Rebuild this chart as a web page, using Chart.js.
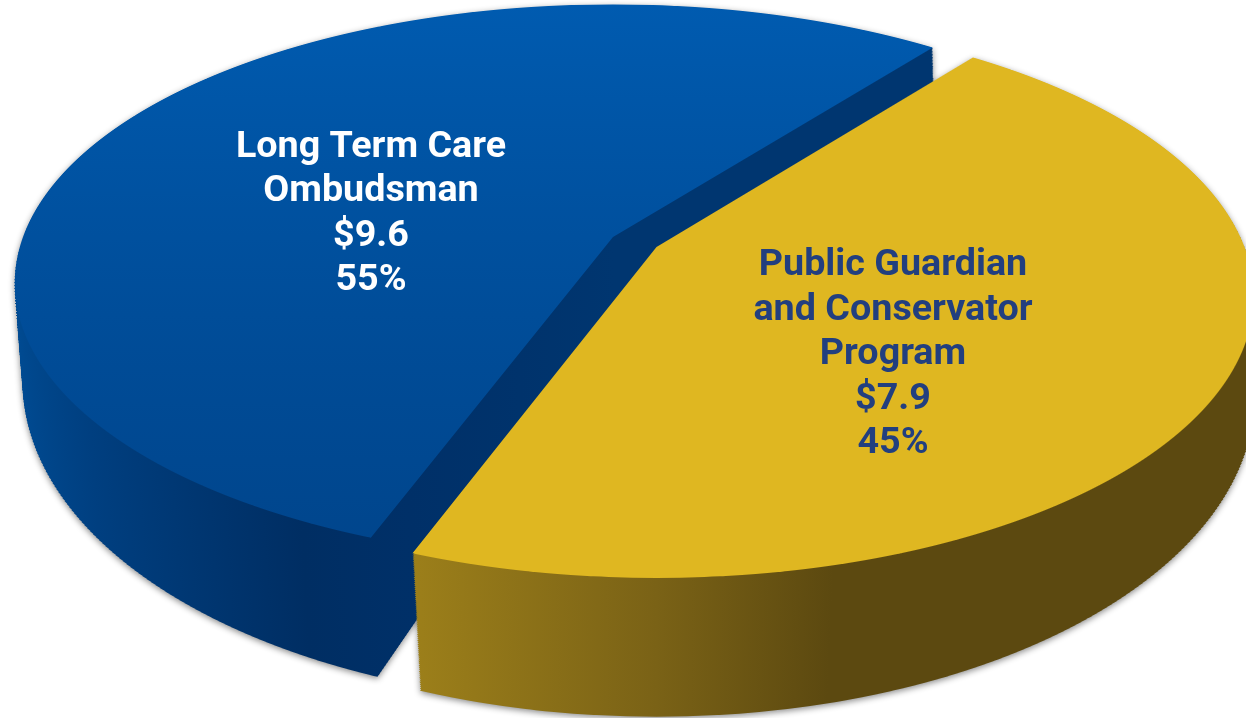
<!DOCTYPE html>
<html>
<head>
<meta charset="utf-8">
<title>Pie</title>
<script src="https://cdn.jsdelivr.net/npm/chart.js@4"></script>
<style>
  html, body { margin: 0; background: #fff; }
  canvas { display: block; filter: drop-shadow(0 2px 3px rgba(0,0,0,.45)); }
</style>
</head>
<body>
<canvas id="pie" width="1246" height="718"></canvas>
<script>
const categories = ['Long Term Care Ombudsman', 'Public Guardian and Conservator Program'];
const amounts = [9.6, 7.9];
const percents = ['55%', '45%'];
const nameLines = [['Long Term Care', 'Ombudsman'], ['Public Guardian', 'and Conservator', 'Program']];

// camera per slice: y' = (a*v + e) / (1 - k*v), x' = d + b*u / (1 - k*v), u and v being on the unit circle
const cameras = [
    { apex: { x: 613, y: 237 }, top: { a: 271, e: 0, k: 0.165, b: 590, d: 0 }, low: { a: 299.5, e: 95, k: 0.155, b: 585, d: 2 } },
    { apex: { x: 656.5, y: 247 }, top: { a: 273, e: 0, k: 0.175, b: 588, d: 0 }, low: { a: 299, e: 105, k: 0.14, b: 592, d: 0 } }
];

function ringAt(cam, t) {
    const mix = key => cam.top[key] + (cam.low[key] - cam.top[key]) * t;
    return { a: mix('a'), e: mix('e'), k: mix('k'), b: mix('b'), d: mix('d') };
}

function drawProjected(ctx, arc, apex, ring, R, stripH) {
    const cx = arc.x, cy = arc.y;
    const yTop = Math.floor(apex.y + (ring.e - ring.a * 1.1) / (1 + ring.k * 1.1));
    const yEnd = Math.ceil(apex.y + (ring.e + ring.a * 1.1) / (1 - ring.k * 1.1));
    for (let y = Math.max(0, yTop); y < Math.min(718, yEnd); y += stripH) {
        const yp = y + stripH / 2 - apex.y;
        const v = (yp - ring.e) / (ring.a + ring.k * yp);
        const w = 1 - ring.k * v;
        const sx = ring.b / w / R;
        const sy = (ring.a + ring.k * ring.e) / (w * w) / R;
        ctx.save();
        ctx.setTransform(1, 0, 0, 1, 0, 0);
        ctx.beginPath();
        ctx.rect(0, y, 1246, stripH);
        ctx.clip();
        ctx.setTransform(sx, 0, 0, sy, apex.x + ring.d - sx * cx, y + stripH / 2 - sy * (cy + v * R));
        arc.draw(ctx);
        ctx.restore();
    }
}

function horizontalGradient(ctx, arc, R, stops) {
    const g = ctx.createLinearGradient(arc.x - R, 0, arc.x + R, 0);
    stops.forEach(s => g.addColorStop((s[0] + 1) / 2, s[1]));
    return g;
}

const pie3d = {
    id: 'pie3d',
    beforeDatasetsDraw(chart) {
        const ctx = chart.ctx;
        const arcs = chart.getDatasetMeta(0).data;
        const R = arcs[0].outerRadius;

        const blueTop = ctx.createLinearGradient(0, arcs[0].y - R, 0, arcs[0].y + R);
        blueTop.addColorStop(0, '#005bb0');
        blueTop.addColorStop(1, '#00458c');
        const faces = [blueTop, '#dfb721'];
        const walls = [
            horizontalGradient(ctx, arcs[0], R, [[-1, '#004c94'], [-0.8, '#003f80'], [-0.45, '#002e63'], [-0.3, '#003068'], [0, '#003670'], [1, '#003670']]),
            horizontalGradient(ctx, arcs[1], R, [[-1, '#9c7f1a'], [-0.35, '#9c7f1a'], [0, '#7a6216'], [0.25, '#5c4910'], [1, '#5c4910']])
        ];

        arcs.forEach((arc, i) => {
            const base = arc.options;
            const cam = cameras[i];
            const layers = 70;
            arc.options = Object.assign({}, base, { backgroundColor: walls[i], borderWidth: 0 });
            for (let n = layers; n > 0; n--) {
                drawProjected(ctx, arc, cam.apex, ringAt(cam, n / layers), R, 3);
            }
            arc.options = Object.assign({}, base, { backgroundColor: faces[i], borderWidth: 0 });
            drawProjected(ctx, arc, cam.apex, cam.top, R, 1);
            arc.options = base;
        });
        return false;
    },
    afterDraw(chart) {
        const ctx = chart.ctx;
        ctx.save();
        ctx.setTransform(1, 0, 0, 1, 0, 0);
        ctx.font = 'bold 37.7px Roboto';
        ctx.textAlign = 'center';
        ctx.textBaseline = 'alphabetic';
        const places = [{ x: 371, y: 156.5, color: '#ffffff' }, { x: 893, y: 275, color: '#223f7f' }];
        categories.forEach((name, i) => {
            const lines = nameLines[i].concat('$' + amounts[i].toFixed(1), percents[i]);
            ctx.fillStyle = places[i].color;
            lines.forEach((line, j) => ctx.fillText(line, places[i].x, places[i].y + j * 44.5));
        });
        ctx.restore();
    }
};

new Chart(document.getElementById('pie'), {
    type: 'pie',
    data: {
        labels: categories,
        datasets: [{
            data: amounts,
            backgroundColor: ['#0052a3', '#dfb721'],
            borderWidth: 0
        }]
    },
    options: {
        responsive: false,
        animation: false,
        devicePixelRatio: 1,
        rotation: 200.3,
        plugins: { legend: { display: false }, tooltip: { enabled: false } }
    },
    plugins: [pie3d]
});
</script>
</body>
</html>
